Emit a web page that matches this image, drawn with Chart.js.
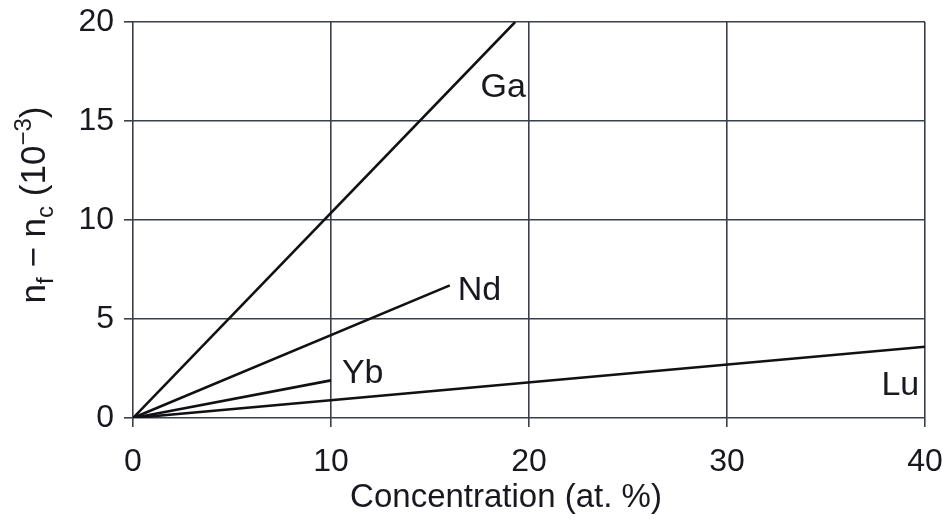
<!DOCTYPE html>
<html>
<head>
<meta charset="utf-8">
<script src="https://cdn.jsdelivr.net/npm/chart.js@4/dist/chart.umd.min.js"></script>
<style>
  html, body { margin: 0; padding: 0; background: #ffffff; }
  #wrap { width: 947px; height: 523px; }
</style>
</head>
<body>
<div id="wrap"><canvas id="c" width="947" height="523"></canvas></div>
<script>
// Index difference n_f - n_c (x10^-3) versus dopant concentration (at. %)
const seriesNames = ['Ga', 'Nd', 'Yb', 'Lu'];
const gaConc = [0, 19.3];
const gaDelta = [0, 20];
const ndConc = [0, 16];
const ndDelta = [0, 6.7];
const ybConc = [0, 10];
const ybDelta = [0, 1.9];
const luConc = [0, 40];
const luDelta = [0, 3.6];
const xTicks = [0, 10, 20, 30, 40];
const yTicks = [0, 5, 10, 15, 20];
const xTitle = 'Concentration (at. %)';

const FONT = '"Liberation Sans", Arial, Helvetica, sans-serif';
const INK = '#18181f';
const GRID = '#3b3e4c';

function pts(xs, ys) { return xs.map((x, i) => ({ x: x, y: ys[i] })); }

const seriesData = {
  Ga: pts(gaConc, gaDelta),
  Nd: pts(ndConc, ndDelta),
  Yb: pts(ybConc, ybDelta),
  Lu: pts(luConc, luDelta)
};

// where each series name sits, in axis units (left edge, baseline)
const nameAnchor = {
  Ga: { x: 17.55, y: 16.2 },
  Nd: { x: 16.4, y: 5.95 },
  Yb: { x: 10.55, y: 1.75 },
  Lu: { x: 37.8, y: 1.15 }
};

const seriesLabels = {
  id: 'seriesLabels',
  afterDatasetsDraw(chart) {
    const { ctx, scales } = chart;
    ctx.save();
    ctx.fillStyle = INK;
    ctx.font = '34px ' + FONT;
    ctx.textAlign = 'left';
    ctx.textBaseline = 'alphabetic';
    seriesNames.forEach(n => {
      const a = nameAnchor[n];
      ctx.fillText(n, scales.x.getPixelForValue(a.x), scales.y.getPixelForValue(a.y));
    });
    ctx.restore();
  }
};

// axis titles; the y title carries sub/superscripts: n_f − n_c (10^−3)
const axisTitles = {
  id: 'axisTitles',
  afterDraw(chart) {
    const { ctx } = chart;
    ctx.save();
    ctx.fillStyle = INK;
    ctx.textBaseline = 'alphabetic';

    ctx.font = '33px ' + FONT;
    ctx.textAlign = 'center';
    ctx.fillText(xTitle, 506, 507);

    const big = '35px ' + FONT;
    const small = '24px ' + FONT;
    const parts = [
      { t: 'n', f: big, dy: 0 },
      { t: 'f', f: small, dy: 8 },
      { t: ' \u2212 ', f: big, dy: 0 },
      { t: 'n', f: big, dy: 0 },
      { t: 'c', f: small, dy: 8 },
      { t: ' (10', f: big, dy: 0 },
      { t: '\u22123', f: small, dy: -14 },
      { t: ')', f: big, dy: 0 }
    ];
    let total = 0;
    parts.forEach(p => { ctx.font = p.f; p.w = ctx.measureText(p.t).width; total += p.w; });
    ctx.translate(45, 205);
    ctx.rotate(-Math.PI / 2);
    ctx.textAlign = 'left';
    let x = -total / 2;
    parts.forEach(p => {
      ctx.font = p.f;
      ctx.fillText(p.t, x, p.dy);
      x += p.w;
    });
    ctx.restore();
  }
};

const lineStyle = { borderColor: '#111114', borderWidth: 2.6, pointRadius: 0, fill: false, tension: 0 };

// fixed plot frame: scales get no extra edge padding from their labels
function noEdgePadding(axis) {
  axis.paddingTop = 0; axis.paddingBottom = 0;
  axis.paddingLeft = 0; axis.paddingRight = 0;
}

new Chart(document.getElementById('c'), {
  type: 'line',
  data: {
    datasets: seriesNames.map(n => Object.assign({ label: n, data: seriesData[n] }, lineStyle))
  },
  options: {
    responsive: false,
    animation: false,
    events: [],
    layout: { padding: { top: 22, right: 22, left: 0, bottom: 0 } },
    plugins: { legend: { display: false }, tooltip: { enabled: false } },
    scales: {
      x: {
        type: 'linear',
        min: 0, max: 40,
        afterBuildTicks(axis) { axis.ticks = xTicks.map(v => ({ value: v })); },
        afterFit(axis) { axis.height = 105; noEdgePadding(axis); },
        grid: { color: GRID, lineWidth: 1.6, tickLength: 9, drawTicks: true },
        border: { display: false },
        ticks: { color: INK, font: { family: FONT, size: 32 }, padding: 16, maxRotation: 0 },
        title: { display: false }
      },
      y: {
        type: 'linear',
        min: 0, max: 20,
        afterBuildTicks(axis) { axis.ticks = yTicks.map(v => ({ value: v })); },
        afterFit(axis) { axis.width = 133; noEdgePadding(axis); },
        grid: { color: GRID, lineWidth: 1.6, tickLength: 9, drawTicks: true },
        border: { display: false },
        ticks: { color: INK, font: { family: FONT, size: 32 }, padding: 10 }
      }
    }
  },
  plugins: [seriesLabels, axisTitles]
});
</script>
</body>
</html>
